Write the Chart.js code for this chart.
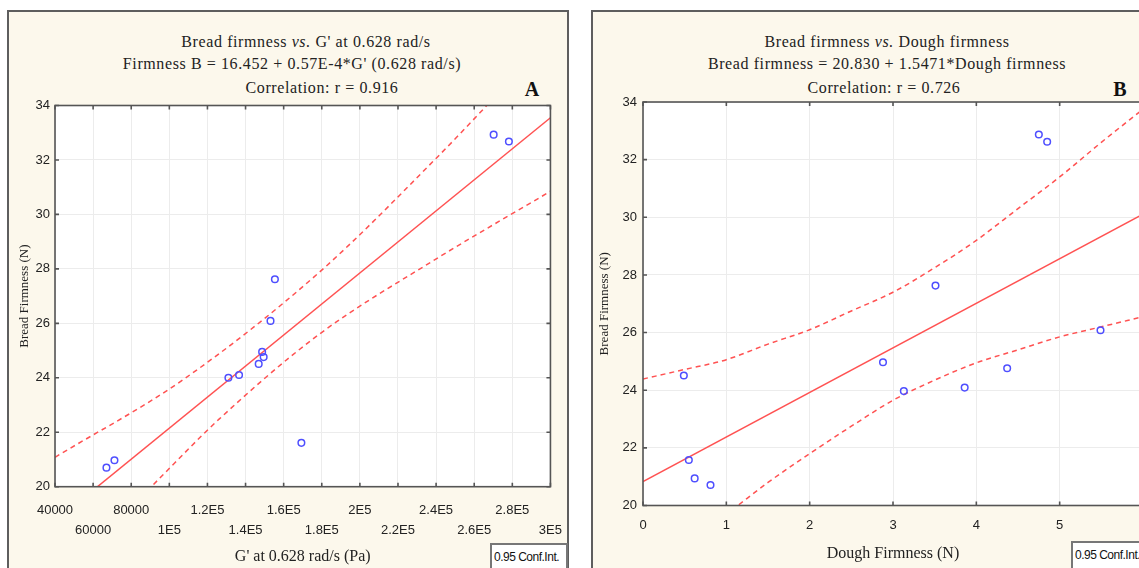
<!DOCTYPE html>
<html>
<head>
<meta charset="utf-8">
<script src="https://cdn.jsdelivr.net/npm/chart.js@4.4.1/dist/chart.umd.min.js"></script>
<style>
html, body { margin: 0; padding: 0; width: 1139px; height: 568px; overflow: hidden; background: #fff; }
.panel { position: absolute; top: 10px; height: 580px; box-sizing: border-box; border: 2px solid #5e5e5e; background: #fcf8ec; }
#panelA { left: 7px; width: 562px; }
#panelB { left: 591px; width: 620px; }
.wrap { position: absolute; top: 0; height: 568px; }
#wrapA { left: 0; width: 575px; }
#wrapB { left: 580px; width: 600px; }
.hdr { position: absolute; transform: translate(-50%, -50%); white-space: nowrap; font-family: 'Liberation Serif', serif; font-size: 16px; letter-spacing: 0.6px; color: #222; }
.tag { position: absolute; transform: translate(-50%, -50%); font: bold 20px 'Liberation Serif', serif; color: #111; }
.conf { position: absolute; box-sizing: border-box; height: 40px; border: 2px solid #777; background: #fff; color: #111;
        font: 12px 'Liberation Sans Narrow', 'Liberation Sans', sans-serif; letter-spacing: -0.5px; padding: 5px 2px; white-space: nowrap; }
</style>
</head>
<body>
<div class="panel" id="panelA"></div>
<div class="panel" id="panelB"></div>

<div class="hdr" style="left:306px;top:42px">Bread firmness <i>vs.</i> G' at 0.628 rad/s</div>
<div class="hdr" style="left:292px;top:64px">Firmness B = 16.452 + 0.57E-4*G' (0.628 rad/s)</div>
<div class="hdr" style="left:322px;top:88px">Correlation: r = 0.916</div>
<div class="tag" style="left:532px;top:89px">A</div>

<div class="hdr" style="left:887px;top:42px">Bread firmness <i>vs.</i> Dough firmness</div>
<div class="hdr" style="left:887px;top:64px">Bread firmness = 20.830 + 1.5471*Dough firmness</div>
<div class="hdr" style="left:884px;top:88px">Correlation: r = 0.726</div>
<div class="tag" style="left:1120px;top:89px">B</div>

<div class="wrap" id="wrapA"><canvas id="chartA"></canvas></div>
<div class="wrap" id="wrapB"><canvas id="chartB"></canvas></div>

<div class="conf" style="left:490px;top:543px;width:78px">0.95 Conf.Int.</div>
<div class="conf" style="left:1071px;top:541px;width:80px">0.95 Conf.Int.</div>

<script>
// panel A : G' at 0.628 rad/s vs bread firmness
const gPrimeA = [67000, 71200, 131000, 136600, 146900, 148700, 149500, 153100, 155400, 169300, 270200, 278200];
const firmA   = [20.70, 20.97, 24.00, 24.10, 24.51, 24.95, 24.76, 26.09, 27.62, 21.61, 32.93, 32.68];
const fitAX   = [60000, 300000];
const fitAY   = [19.87, 33.55];
const upperAX = [40000, 107000, 178300, 241000, 266200, 280000];
const upperAY = [21.08, 23.92, 27.85, 32.13, 33.97, 35.00];
const lowerAX = [85000, 90500, 126100, 178300, 239200, 300000];
const lowerAY = [19.62, 20.00, 22.48, 25.58, 28.33, 30.85];
const xTicksA = ['40000', '60000', '80000', '1E5', '1.2E5', '1.4E5', '1.6E5', '1.8E5', '2E5', '2.2E5', '2.4E5', '2.6E5', '2.8E5', '3E5'];

// panel B : dough firmness vs bread firmness
const doughB  = [0.49, 0.55, 0.62, 0.81, 2.88, 3.13, 3.51, 3.86, 4.37, 4.75, 4.85, 5.49];
const firmB   = [24.51, 21.58, 20.94, 20.71, 24.97, 23.97, 27.63, 24.09, 24.76, 32.87, 32.62, 26.08];
const fitBX   = [0, 6];
const fitBY   = [20.83, 30.11];
const upperBX = [0, 0.5, 1, 1.5, 2, 2.5, 3, 3.5, 4, 4.5, 5, 5.5, 6];
const upperBY = [24.39, 24.72, 25.06, 25.60, 26.10, 26.75, 27.40, 28.25, 29.20, 30.30, 31.40, 32.60, 33.75];
const lowerBX = [0.8, 1, 1.5, 2, 2.5, 3, 3.5, 4, 4.5, 5, 5.5, 6];
const lowerBY = [19.30, 19.70, 20.80, 21.80, 22.75, 23.65, 24.35, 24.95, 25.40, 25.85, 26.20, 26.55];

const yTicks = [20, 22, 24, 26, 28, 30, 32, 34];

const pairs = (xs, ys) => xs.map((x, i) => ({x: x, y: ys[i]}));

const tickFont = {family: "'Liberation Sans Narrow', 'Liberation Sans', sans-serif", size: 13, lineHeight: 1.6};
const titleFont = {family: "'Liberation Serif', serif", size: 16};

// white plot area, dark frame and inward tick marks on all four sides
const framePlugin = {
  id: 'frame',
  beforeDraw(chart) {
    const a = chart.chartArea, ctx = chart.ctx;
    ctx.save();
    ctx.fillStyle = '#fff';
    ctx.fillRect(a.left, a.top, a.right - a.left, a.bottom - a.top);
    ctx.restore();
  },
  afterDraw(chart) {
    const a = chart.chartArea, ctx = chart.ctx;
    const xs = chart.scales.x, ys = chart.scales.y;
    ctx.save();
    ctx.strokeStyle = '#555';
    ctx.lineWidth = 1.6;
    ctx.beginPath();
    xs.ticks.forEach((t, i) => {
      const px = xs.getPixelForTick(i);
      ctx.moveTo(px, a.bottom); ctx.lineTo(px, a.bottom - 4);
      ctx.moveTo(px, a.top); ctx.lineTo(px, a.top + 4);
    });
    ys.ticks.forEach((t, i) => {
      const py = ys.getPixelForTick(i);
      ctx.moveTo(a.left, py); ctx.lineTo(a.left + 4, py);
      ctx.moveTo(a.right, py); ctx.lineTo(a.right - 4, py);
    });
    ctx.stroke();
    ctx.strokeRect(a.left, a.top, a.right - a.left, a.bottom - a.top);
    ctx.restore();
  }
};

function datasets(px, py, fx, fy, ux, uy, lx, ly) {
  const band = {showLine: true, pointRadius: 0, borderColor: '#ff5252', borderWidth: 1.5,
                borderDash: [5, 4], cubicInterpolationMode: 'monotone'};
  return [
    {data: pairs(px, py), showLine: false, pointRadius: 3.3, pointBorderWidth: 1.5,
     borderColor: '#4f4fff', backgroundColor: 'rgba(0,0,0,0)'},
    {data: pairs(fx, fy), showLine: true, pointRadius: 0, borderColor: '#ff5252', borderWidth: 1.5},
    Object.assign({data: pairs(ux, uy)}, band),
    Object.assign({data: pairs(lx, ly)}, band)
  ];
}

function yScale(width, pad) {
  return {
    min: 20, max: 34,
    afterBuildTicks: s => { s.ticks = yTicks.map(v => ({value: v})); },
    ticks: {font: {family: tickFont.family, size: 13}, color: '#222', padding: pad},
    grid: {color: '#ececec', drawTicks: false},
    border: {display: false},
    title: {display: true, text: 'Bread Firmness (N)', font: {family: "'Liberation Serif', serif", size: 13}, color: '#222'},
    afterFit: s => { s.width = width; }
  };
}

new Chart(document.getElementById('chartA'), {
  type: 'scatter',
  data: {datasets: datasets(gPrimeA, firmA, fitAX, fitAY, upperAX, upperAY, lowerAX, lowerAY)},
  options: {
    responsive: true, maintainAspectRatio: false, animation: false,
    layout: {padding: {left: 13, right: 23, top: 105.5, bottom: 0}},
    plugins: {legend: {display: false}, tooltip: {enabled: false}},
    scales: {
      x: {
        type: 'linear', min: 40000, max: 300000,
        ticks: {stepSize: 20000, autoSkip: false, maxRotation: 0, padding: 13, font: tickFont, color: '#222',
                callback: (v, i) => i % 2 === 0 ? [xTicksA[i], ''] : ['', xTicksA[i]]},
        grid: {color: '#ececec', drawTicks: false},
        border: {display: false},
        title: {display: true, text: "G' at 0.628 rad/s (Pa)", font: titleFont, color: '#222', padding: {top: 2, bottom: 2}},
        afterFit: s => { s.height = 81.3; }
      },
      y: yScale(42, 5)
    }
  },
  plugins: [framePlugin]
});

new Chart(document.getElementById('chartB'), {
  type: 'scatter',
  data: {datasets: datasets(doughB, firmB, fitBX, fitBY, upperBX, upperBY, lowerBX, lowerBY)},
  options: {
    responsive: true, maintainAspectRatio: false, animation: false,
    layout: {padding: {left: 13, right: 37, top: 102, bottom: 3}},
    plugins: {legend: {display: false}, tooltip: {enabled: false}},
    scales: {
      x: {
        type: 'linear', min: 0, max: 6,
        ticks: {stepSize: 1, autoSkip: false, maxRotation: 0, padding: 10, font: tickFont, color: '#222'},
        grid: {color: '#ececec', drawTicks: false},
        border: {display: false},
        title: {display: true, text: 'Dough Firmness (N)', font: titleFont, color: '#222', padding: {top: 2, bottom: 2}},
        afterFit: s => { s.height = 59.5; }
      },
      y: yScale(50, 6)
    }
  },
  plugins: [framePlugin]
});
</script>
</body>
</html>
